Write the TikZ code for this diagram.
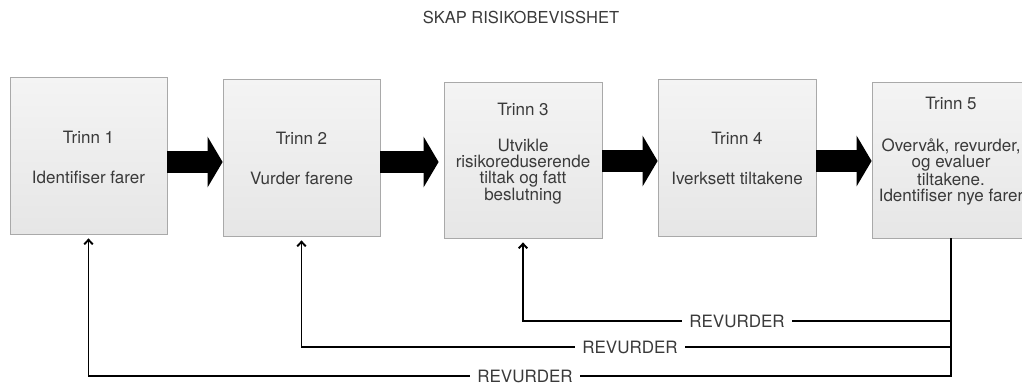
\documentclass[tikz,border=0pt]{standalone}
\usepackage{fontspec}
\setmainfont{TeX Gyre Heros}
\usetikzlibrary{arrows.meta}
\definecolor{ink}{HTML}{3A3A3A}
\definecolor{boxline}{HTML}{A9A9A9}
\definecolor{boxtop}{HTML}{F4F4F4}
\definecolor{boxbot}{HTML}{E6E6E6}
\begin{document}
\begin{tikzpicture}[x=1pt,y=-1pt,
  stepbox/.style={draw=boxline, line width=0.8pt, top color=boxtop, bottom color=boxbot,
                  minimum width=157pt, minimum height=157pt, inner sep=0pt},
  txt/.style={text=ink, font=\fontsize{17}{16}\selectfont, align=center, inner sep=0pt},
  fat/.style={line width=22pt, draw=black, -{Triangle[length=15pt, width=50pt]}},
  fb/.style={line width=1.9pt, draw=black},
  back/.style={fb, -{Straight Barb[length=4.5pt, width=8.5pt]}, shorten >=4pt},
  lbl/.style={txt, fill=white, inner xsep=7pt, inner ysep=2pt}
]
\useasboundingbox (0,0) rectangle (1022,389);

% title
\node[txt, font=\fontsize{16.5}{18}\selectfont] (title) at (521,17) {SKAP RISIKOBEVISSHET};

% the five steps
\node[stepbox] (b1) at (88.5,155.5) {};
\node[stepbox] (b2) at (301.5,157.5) {};
\node[stepbox, minimum width=158pt, minimum height=156pt] (b3) at (523,160) {};
\node[stepbox, minimum width=158pt] (b4) at (737,157.5) {};
\node[stepbox, minimum width=158pt, minimum height=156pt] (b5) at (951,160) {};

\node[txt] (h1) at (b1 |- 0,137) {Trinn 1};
\node[txt] (d1) at (b1 |- 0,177) {Identifiser farer};
\node[txt] (h2) at (b2 |- 0,138) {Trinn 2};
\node[txt] (d2) at (b2 |- 0,178) {Vurder farene};
\node[txt] (h3) at (b3 |- 0,109) {Trinn 3};
\node[txt] (d3) at (b3 |- 0,172) {Utvikle\\risikoreduserende\\tiltak og fatt\\beslutning};
\node[txt] (h4) at (b4 |- 0,138) {Trinn 4};
\node[txt] (d4) at (b4 |- 0,178) {Iverksett tiltakene};
\node[txt] (h5) at (b5 |- 0,103) {Trinn 5};
\node[txt] (d5) at (b5 |- 0,172) {Overvåk, revurder,\\og evaluer\\tiltakene.\\Identifiser nye farer};

% block arrows between the steps
\draw[fat] (b1.east |- 0,162) -- (b2.west |- 0,162);
\draw[fat, shorten >=5pt] (b2.east |- 0,162) -- (b3.west |- 0,162);
\draw[fat] (b3.east |- 0,161) -- (b4.west |- 0,161);
\draw[fat] (b4.east |- 0,161) -- (b5.west |- 0,161);

% feedback loops
\coordinate (j1) at (b5.south |- 0,321);
\coordinate (j2) at (b5.south |- 0,347);
\coordinate (j3) at (b5.south |- 0,376);
\draw[back] (b5.south) -- (j3) -| (b1.south);
\draw[back] (j1) -| (b3.south);
\draw[back] (j2) -| (b2.south);

\node[lbl] (r1) at (737,321) {REVURDER};
\node[lbl] (r2) at (630,347) {REVURDER};
\node[lbl] (r3) at (525,376) {REVURDER};
\end{tikzpicture}
\end{document}
